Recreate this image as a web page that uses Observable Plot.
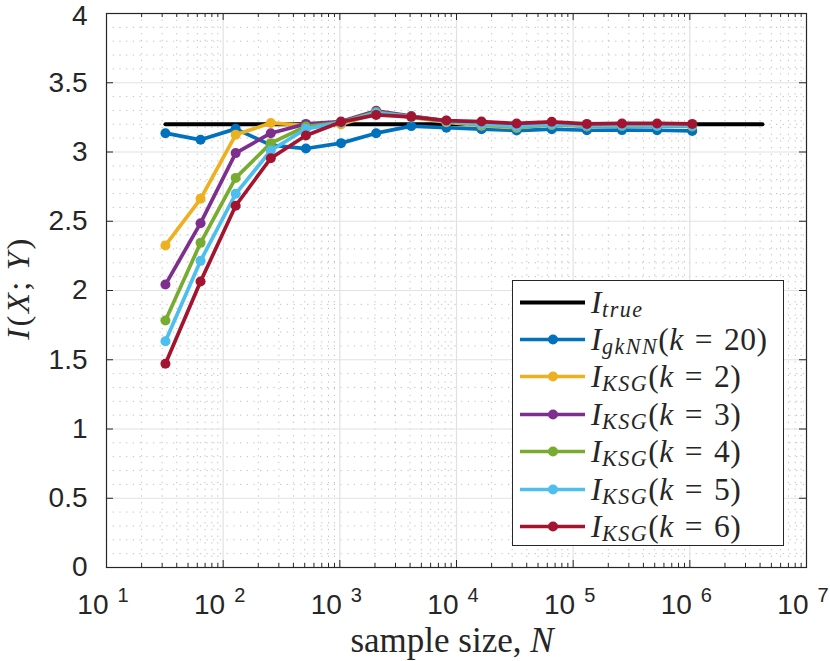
<!DOCTYPE html>
<html>
<head>
<meta charset="utf-8">
<script src="https://cdn.jsdelivr.net/npm/d3@7"></script>
<script src="https://cdn.jsdelivr.net/npm/@observablehq/plot@0.6"></script>
<style>
  html, body { margin: 0; padding: 0; background: #fff; }
  #wrap { position: relative; width: 830px; height: 661px; }
  .serif { font-family: "Liberation Serif", "DejaVu Serif", serif; color: #262626; }
  #legend { position: absolute; left: 512px; top: 280px; width: 270px; height: 264px;
            background: #fff; border: 1px solid #262626; }
  .row { position: absolute; left: 0; height: 37px; width: 270px; }
  .row svg { position: absolute; left: 0; top: 0; }
  .row .txt { position: absolute; left: 78px; top: 0; height: 37px; line-height: 37px;
              font-size: 31.5px; white-space: nowrap; letter-spacing: 0.5px; }
  sub { font-size: 0.7em; vertical-align: -4px; line-height: 0; letter-spacing: 1.5px; }
  .eq { padding: 0 0.35em; }
  #ylabel { position: absolute; width: 180px; height: 30px; line-height: 30px; text-align: center;
            font-size: 32.5px; left: -72px; top: 273px; transform: rotate(-90deg); letter-spacing: 2.5px; white-space: nowrap; }
  #xlabel { position: absolute; left: 252px; width: 400px; top: 623px; font-size: 35px; line-height: 1;
            text-align: center; white-space: nowrap; }
</style>
</head>
<body>
<div id="wrap"></div>
<script>
// ---- data ----
const N = [32, 64, 128, 256, 512, 1024, 2048, 4096, 8192, 16384, 32768, 65536, 131072, 262144, 524288, 1048576];
const I_gkNN = [3.136, 3.088, 3.167, 3.05, 3.025, 3.064, 3.136, 3.187, 3.175, 3.165, 3.155, 3.165, 3.157, 3.158, 3.157, 3.152];
const I_ksg2 = [2.325, 2.662, 3.124, 3.21, 3.19, 3.198, 3.28, 3.25, 3.215, 3.19, 3.175, 3.195, 3.185, 3.188, 3.188, 3.185];
const I_ksg3 = [2.043, 2.486, 2.992, 3.136, 3.203, 3.22, 3.298, 3.26, 3.225, 3.2, 3.19, 3.2, 3.19, 3.192, 3.19, 3.19];
const I_ksg4 = [1.783, 2.344, 2.813, 3.064, 3.184, 3.215, 3.288, 3.255, 3.222, 3.195, 3.18, 3.197, 3.188, 3.19, 3.19, 3.188];
const I_ksg5 = [1.634, 2.214, 2.698, 3.011, 3.167, 3.212, 3.282, 3.253, 3.222, 3.2, 3.185, 3.2, 3.19, 3.192, 3.19, 3.19];
const I_ksg6 = [1.471, 2.065, 2.612, 2.955, 3.119, 3.217, 3.268, 3.254, 3.227, 3.22, 3.206, 3.218, 3.203, 3.206, 3.206, 3.203];
const trueN = [32, 4194304];
const trueI = [3.2, 3.2];

const seriesKeys = ["gkNN", "ksg2", "ksg3", "ksg4", "ksg5", "ksg6"];
const seriesValues = [I_gkNN, I_ksg2, I_ksg3, I_ksg4, I_ksg5, I_ksg6];
const seriesColors = ["#0072BD", "#EDB120", "#7E2F8E", "#77AC30", "#4DBEEE", "#A2142F"];
const legendHTML = [
  "<i>I</i><sub><i>true</i></sub>",
  "<i>I</i><sub><i>gkNN</i></sub>(<i>k</i><span class='eq'>=</span>20)",
  "<i>I</i><sub><i>KSG</i></sub>(<i>k</i><span class='eq'>=</span>2)",
  "<i>I</i><sub><i>KSG</i></sub>(<i>k</i><span class='eq'>=</span>3)",
  "<i>I</i><sub><i>KSG</i></sub>(<i>k</i><span class='eq'>=</span>4)",
  "<i>I</i><sub><i>KSG</i></sub>(<i>k</i><span class='eq'>=</span>5)",
  "<i>I</i><sub><i>KSG</i></sub>(<i>k</i><span class='eq'>=</span>6)"
];

// tick values
const xMajor = [10, 100, 1000, 1e4, 1e5, 1e6, 1e7];
const xMinor = [];
for (let d = 1; d <= 6; d++) for (let k = 2; k <= 9; k++) xMinor.push(k * Math.pow(10, d));
const yMajor = [0, 0.5, 1, 1.5, 2, 2.5, 3, 3.5, 4];
const yMinor = d3.range(1, 40).map(i => i / 10).filter(v => Math.abs(v * 2 - Math.round(v * 2)) > 1e-6);

// ---- plot ----
const FH = 554, FW = 700;
const ink = "#262626";
const yFmt = d3.format("~g");
const marks = [
  Plot.ruleX(xMinor, {x: d => d, stroke: "#bdbdbd", strokeDasharray: "1.2,5.5", strokeWidth: 1}),
  Plot.ruleY(yMinor, {y: d => d, stroke: "#bdbdbd", strokeDasharray: "1.2,5.5", strokeWidth: 1}),
  Plot.ruleX(xMajor.slice(1, -1), {x: d => d, stroke: "#e2e2e2", strokeWidth: 1.2}),
  Plot.ruleY(yMajor.slice(1, -1), {y: d => d, stroke: "#e2e2e2", strokeWidth: 1.2}),
  Plot.line(trueN.map((n, i) => ({N: n, I: trueI[i]})), {x: "N", y: "I", stroke: "#000", strokeWidth: 4})
];
seriesValues.forEach((vals, s) => {
  const rows = N.map((n, i) => ({N: n, I: vals[i]}));
  marks.push(Plot.line(rows, {x: "N", y: "I", stroke: seriesColors[s], strokeWidth: 3.7}));
  marks.push(Plot.dot(rows, {x: "N", y: "I", fill: seriesColors[s], r: 5, stroke: "none"}));
});
marks.push(
  Plot.frame({stroke: ink, strokeWidth: 1.2}),
  Plot.ruleX(xMajor, {x: d => d, stroke: ink, insetTop: FH - 7}),
  Plot.ruleX(xMajor, {x: d => d, stroke: ink, insetBottom: FH - 7}),
  Plot.ruleX(xMinor, {x: d => d, stroke: ink, insetTop: FH - 4}),
  Plot.ruleX(xMinor, {x: d => d, stroke: ink, insetBottom: FH - 4}),
  Plot.ruleY(yMajor, {y: d => d, stroke: ink, insetRight: FW - 7}),
  Plot.ruleY(yMajor, {y: d => d, stroke: ink, insetLeft: FW - 7}),
  Plot.axisY(yMajor.slice(0, -1), {tickSize: 0, tickPadding: 19, fontSize: 28, tickFormat: yFmt, label: null, fill: ink}),
  Plot.axisY(yMajor.slice(-1), {tickSize: 0, tickPadding: 19, fontSize: 28, tickFormat: yFmt, label: null, fill: ink, dy: 3}),
  Plot.text(xMajor, {x: d => d, frameAnchor: "bottom", text: () => "10", textAnchor: "end", lineAnchor: "bottom", dx: 2, dy: 46, fontSize: 28, fill: ink}),
  Plot.text(xMajor, {x: d => d, frameAnchor: "bottom", text: d => String(Math.round(Math.log10(d))), textAnchor: "start", lineAnchor: "bottom", dx: 11, dy: 34, fontSize: 20, fill: ink})
);

const chart = Plot.plot({
  width: 830,
  height: 661,
  marginLeft: 106,
  marginRight: 24,
  marginTop: 13,
  marginBottom: 94,
  style: {fontFamily: "Liberation Sans, Arial, sans-serif", background: "#fff", color: ink, overflow: "visible"},
  x: {type: "log", domain: [10, 1e7], axis: null},
  y: {domain: [0, 4]},
  marks
});

const wrap = document.getElementById("wrap");
wrap.appendChild(chart);

// legend
const leg = document.createElement("div");
leg.id = "legend";
leg.className = "serif";
const legColors = ["#000"].concat(seriesColors);
legColors.forEach((c, i) => {
  const row = document.createElement("div");
  row.className = "row";
  row.style.top = (21 + i * 37.4 - 18.5) + "px";
  const dot = i === 0 ? "" : `<circle cx="40" cy="18.5" r="5" fill="${c}"/>`;
  row.innerHTML = `<svg width="80" height="37"><line x1="7" x2="72" y1="18.5" y2="18.5" stroke="${c}" stroke-width="${i === 0 ? 4 : 3.7}"/>${dot}</svg><span class="txt">${legendHTML[i]}</span>`;
  leg.appendChild(row);
});
wrap.appendChild(leg);

const yl = document.createElement("div");
yl.id = "ylabel"; yl.className = "serif";
yl.innerHTML = "<i>I</i>(<i>X</i>;&thinsp;<i>Y</i>)";
wrap.appendChild(yl);

const xl = document.createElement("div");
xl.id = "xlabel"; xl.className = "serif";
xl.innerHTML = "sample size, <i>N</i>";
wrap.appendChild(xl);
</script>
</body>
</html>
